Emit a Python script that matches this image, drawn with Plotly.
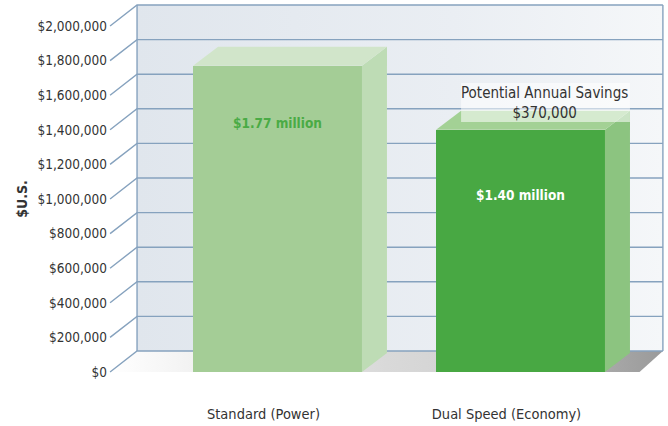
import plotly.graph_objects as go

# ---------------- data ----------------
categories = ["Standard (Power)", "Dual Speed (Economy)"]
annual_cost = [1770000, 1400000]          # $U.S.
tick_values = [0, 200000, 400000, 600000, 800000, 1000000,
               1200000, 1400000, 1600000, 1800000, 2000000]
tick_labels = ["$" + f"{v:,}" for v in tick_values]
y_title = "$U.S."
savings_title = "Potential Annual Savings"

# ---------------- style / layout constants ----------------
FONT = "Liberation Sans Narrow, Arial Narrow, DejaVu Sans Condensed, sans-serif"
TXT = "#333333"
GRID = "#86a2be"
X_RANGE = [-0.6975, 1.607]
Y_RANGE = [-150300, 2150300]
BAR_W = 0.695
HW = BAR_W / 2
BDX, BDY = 0.103, 110000          # bar depth offset
DX, DY = 0.111, 121400            # wall depth offset
X_FRONT = -0.689                  # left front edge of the floor / tick connectors
WALL_L = X_FRONT + DX
WALL_R = 1.586
FLOOR_FR = 1.49
TOP = max(tick_values)

front_cols = ["#a4cd96", "#48a843"]
top_cols = ["#d1e5ca", "#a3d195"]
side_cols = ["#bedcb5", "#8cc480"]
label_cols = ["#4aab45", "#ffffff"]
label_drop = [330000, 375000]

xs = list(range(len(categories)))
fig = go.Figure()

# back wall
fig.add_trace(go.Scatter(
    x=[WALL_L, WALL_R, WALL_R, WALL_L, WALL_L],
    y=[DY, DY, TOP + DY, TOP + DY, DY],
    fill="toself", mode="none",
    fillgradient=dict(type="horizontal",
                      colorscale=[[0, "#e0e6ed"], [0.6, "#eaeef3"], [1, "#f5f7f9"]]),
    hoverinfo="skip", showlegend=False))

# floor
fig.add_trace(go.Scatter(
    x=[X_FRONT, FLOOR_FR, WALL_R, WALL_L, X_FRONT],
    y=[0, 0, DY, DY, 0],
    fill="toself", mode="none",
    fillgradient=dict(type="horizontal",
                      colorscale=[[0, "#ffffff"], [0.15, "#f2f2f2"], [0.5, "#d9d9d9"],
                                  [0.8, "#cccccc"], [0.88, "#ababab"], [1, "#9a9a9a"]]),
    hoverinfo="skip", showlegend=False))

# wall gridlines + connectors to front tick labels
gx, gy = [], []
for v in tick_values:
    gx += [X_FRONT, WALL_L, WALL_R, None]
    gy += [v, v + DY, v + DY, None]
gx += [WALL_L, WALL_L, None, WALL_R, WALL_R]
gy += [DY, TOP + DY, None, DY, TOP + DY]
fig.add_trace(go.Scatter(x=gx, y=gy, mode="lines",
                         line=dict(color=GRID, width=1.4),
                         hoverinfo="skip", showlegend=False))

# bars (front faces) on overlay axes so they sit above the wall
fig.add_trace(go.Bar(x=xs, y=annual_cost, width=BAR_W,
                     marker=dict(color=front_cols, line=dict(width=0)),
                     xaxis="x2", yaxis="y2", hoverinfo="skip", showlegend=False))

for i, v in zip(xs, annual_cost):
    # side face
    fig.add_trace(go.Scatter(
        x=[i + HW, i + HW, i + HW + BDX, i + HW + BDX, i + HW],
        y=[0, v, v + BDY, BDY, 0],
        fill="toself", mode="none", fillcolor=side_cols[i],
        xaxis="x2", yaxis="y2", hoverinfo="skip", showlegend=False))
    # top face
    fig.add_trace(go.Scatter(
        x=[i - HW, i + HW, i + HW + BDX, i - HW + BDX, i - HW],
        y=[v, v, v + BDY, v + BDY, v],
        fill="toself", mode="none", fillcolor=top_cols[i],
        xaxis="x2", yaxis="y2", hoverinfo="skip", showlegend=False))

# savings ghost box above the economy bar
v2 = annual_cost[1]
fig.add_trace(go.Scatter(
    x=[1 - HW + BDX, 1 + HW + BDX, 1 + HW + BDX, 1 - HW + BDX, 1 - HW + BDX],
    y=[v2 + 45000, v2 + 45000, v2 + 270000, v2 + 270000, v2 + 45000],
    fill="toself", mode="none", fillcolor="rgba(255,255,255,0.55)",
    xaxis="x2", yaxis="y2", hoverinfo="skip", showlegend=False))

annotations = []
for i, v in zip(xs, annual_cost):
    annotations.append(dict(
        x=i, y=v - label_drop[i], xref="x", yref="y",
        text=f"<b>${v/1e6:.2f} million</b>", showarrow=False,
        font=dict(family=FONT, size=13.5, color=label_cols[i])))

savings = annual_cost[0] - annual_cost[1]
annotations.append(dict(x=1.097, y=1555000, xref="x", yref="y",
                        text=f"{savings_title}<br>${savings:,.0f}",
                        showarrow=False, font=dict(family=FONT, size=15, color=TXT)))

fig.update_layout(
    width=668, height=426,
    margin=dict(l=108, r=0, t=0, b=28),
    paper_bgcolor="white", plot_bgcolor="white",
    font=dict(family=FONT, size=14, color=TXT),
    hovermode=False, showlegend=False,
    bargap=0,
    xaxis=dict(range=X_RANGE, tickvals=xs, ticktext=categories,
               showgrid=False, zeroline=False, showline=False, ticks="",
               ticklabelshift=-14, ticklabelstandoff=5, automargin=False,
               tickfont=dict(family=FONT, size=14.5, color=TXT), fixedrange=True),
    yaxis=dict(range=Y_RANGE, tickvals=tick_values, ticktext=tick_labels,
               showgrid=False, zeroline=False, showline=False, ticks="",
               automargin=False,
               tickfont=dict(family=FONT, size=13.5, color=TXT),
               title=dict(text=f"<b>{y_title}</b>", standoff=6,
                          font=dict(family=FONT, size=14, color=TXT)),
               fixedrange=True),
    xaxis2=dict(range=X_RANGE, overlaying="x", visible=False, fixedrange=True),
    yaxis2=dict(range=Y_RANGE, overlaying="y", visible=False, fixedrange=True),
    annotations=annotations,
)

fig.write_html("out.html", config={"displayModeBar": False, "staticPlot": True},
               post_script="document.body.style.margin='0';")
